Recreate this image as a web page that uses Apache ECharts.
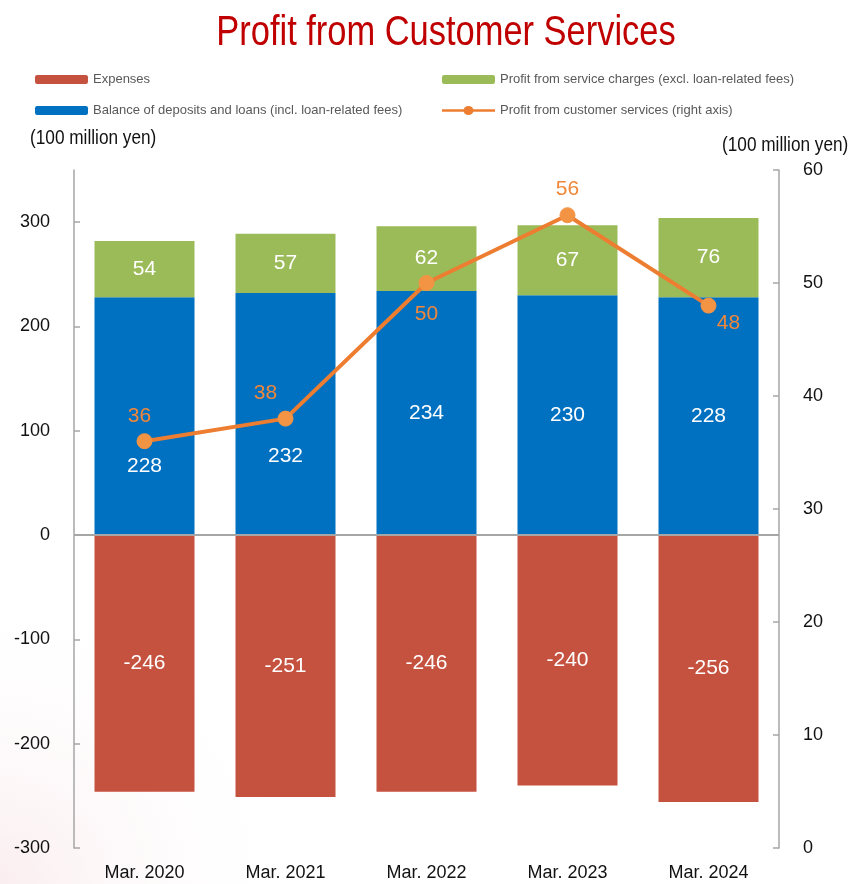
<!DOCTYPE html>
<html>
<head>
<meta charset="utf-8">
<script src="https://cdn.jsdelivr.net/npm/echarts@6/dist/echarts.min.js"></script>
<style>
  html, body { margin: 0; padding: 0; background: #ffffff; }
  #chart { width: 853px; height: 884px; }
</style>
</head>
<body>
<div id="chart"></div>
<script>
// Fiscal year-end periods
const categories = ['Mar. 2020', 'Mar. 2021', 'Mar. 2022', 'Mar. 2023', 'Mar. 2024'];

// Values in 100 million yen
const expenses = [-246, -251, -246, -240, -256];
const depositsAndLoans = [228, 232, 234, 230, 228];
const serviceCharges = [54, 57, 62, 67, 76];
const customerServicesProfit = [36, 38, 50, 56, 48];

// Tick ranges
const leftAxisRange = { min: -300, max: 350, step: 100 };
const rightAxisRange = { min: 0, max: 60, step: 10 };

// Label placement tweaks (pixel offsets)
const depositLabelOffsets = [[0, 50], [0, 42], [0, 0], [0, 0], [0, 0]];
const profitLabelOffsets = [[-5, -25], [-20, -25], [0, 31], [0, -26], [20, 18]];

const FONT = '"Liberation Sans Narrow", "Arial Narrow", "Liberation Sans", Arial, sans-serif';
const NARROW = 0.82; // horizontal squeeze for the free-standing headings
const C_RED = '#C5523F';
const C_BLUE = '#0070C0';
const C_GREEN = '#9BBB59';
const C_ORANGE = '#ED7D31';
const C_ORANGE_LIGHT = '#F39444';
const AXIS_GRAY = '#A6A6A6';

// Legend glyph for the line series: a thick stroke with a dot in the middle
const LINE_DOT_ICON = 'path://M0,3.5 L53,3.5 L53,6.5 L0,6.5 Z M21.5,5 A5,5 0 1 1 31.5,5 A5,5 0 1 1 21.5,5 Z';

const names = {
  exp: 'Expenses',
  dep: 'Balance of deposits and loans (incl. loan-related fees)',
  svc: 'Profit from service charges (excl. loan-related fees)',
  prof: 'Profit from customer services (right axis)'
};

const chart = echarts.init(document.getElementById('chart'), null, { renderer: 'canvas' });

const barLabel = {
  show: true,
  position: 'inside',
  color: '#ffffff',
  fontFamily: FONT,
  fontSize: 21
};

const legendText = { fontFamily: FONT, fontSize: 13, color: '#595959' };

function heading(text, x, y, size, color, align) {
  return {
    type: 'text',
    x: x,
    y: y,
    scaleX: NARROW,
    silent: true,
    style: {
      text: text,
      font: size + 'px ' + FONT,
      fill: color,
      align: align,
      verticalAlign: 'middle'
    }
  };
}

chart.setOption({
  animation: false,
  backgroundColor: '#ffffff',
  textStyle: { fontFamily: FONT },
  graphic: [
    {
      type: 'rect',
      z: -10,
      silent: true,
      shape: { x: 0, y: 584, width: 300, height: 300 },
      style: {
        fill: new echarts.graphic.RadialGradient(0, 1, 1, [
          { offset: 0, color: 'rgba(236, 185, 195, 0.25)' },
          { offset: 1, color: 'rgba(255, 255, 255, 0)' }
        ])
      }
    },
    heading('Profit from Customer Services', 446, 33, 42, '#C00000', 'center'),
    heading('(100 million yen)', 30, 138, 21, '#111111', 'left'),
    heading('(100 million yen)', 722, 145, 21, '#111111', 'left')
  ],
  legend: [
    {
      orient: 'vertical',
      left: 35,
      top: 73,
      padding: 0,
      itemWidth: 53,
      itemHeight: 9,
      itemGap: 18,
      textStyle: legendText,
      data: [names.exp, names.dep]
    },
    {
      orient: 'vertical',
      left: 442,
      top: 73,
      padding: 0,
      itemWidth: 53,
      itemHeight: 9,
      itemGap: 18,
      symbolKeepAspect: false,
      textStyle: legendText,
      data: [
        names.svc,
        { name: names.prof, icon: LINE_DOT_ICON, itemStyle: { color: C_ORANGE } }
      ]
    }
  ],
  grid: { left: 74, right: 74, top: 170, bottom: 36, containLabel: false },
  xAxis: {
    type: 'category',
    data: categories,
    axisLine: { show: false },
    axisTick: { show: false },
    axisLabel: { color: '#111111', fontFamily: FONT, fontSize: 18, margin: 16 }
  },
  yAxis: [
    {
      type: 'value',
      min: leftAxisRange.min,
      max: leftAxisRange.max,
      interval: leftAxisRange.step,
      position: 'left',
      splitLine: { show: false },
      axisLine: { show: true, lineStyle: { color: AXIS_GRAY, width: 1.5 } },
      axisTick: { show: true, inside: true, length: 6, lineStyle: { color: AXIS_GRAY, width: 1.5 } },
      axisLabel: { color: '#111111', fontFamily: FONT, fontSize: 18, margin: 24, showMaxLabel: false }
    },
    {
      type: 'value',
      min: rightAxisRange.min,
      max: rightAxisRange.max,
      interval: rightAxisRange.step,
      position: 'right',
      splitLine: { show: false },
      axisLine: { show: true, lineStyle: { color: AXIS_GRAY, width: 1.5 } },
      axisTick: { show: true, inside: true, length: 6, lineStyle: { color: AXIS_GRAY, width: 1.5 } },
      axisLabel: { color: '#111111', fontFamily: FONT, fontSize: 18, margin: 24 }
    }
  ],
  series: [
    {
      name: names.exp,
      type: 'bar',
      stack: 'total',
      yAxisIndex: 0,
      barWidth: 100,
      itemStyle: { color: C_RED },
      label: barLabel,
      data: expenses,
      markLine: {
        silent: true,
        symbol: 'none',
        label: { show: false },
        lineStyle: { color: AXIS_GRAY, width: 2, type: 'solid' },
        data: [{ yAxis: 0 }],
        z: 5
      }
    },
    {
      name: names.dep,
      type: 'bar',
      stack: 'total',
      yAxisIndex: 0,
      barWidth: 100,
      itemStyle: { color: C_BLUE },
      label: barLabel,
      data: depositsAndLoans.map((v, i) => ({
        value: v,
        label: { offset: depositLabelOffsets[i] }
      }))
    },
    {
      name: names.svc,
      type: 'bar',
      stack: 'total',
      yAxisIndex: 0,
      barWidth: 100,
      itemStyle: { color: C_GREEN },
      label: barLabel,
      data: serviceCharges
    },
    {
      name: names.prof,
      type: 'line',
      yAxisIndex: 1,
      z: 10,
      symbol: 'circle',
      symbolSize: 15,
      lineStyle: { color: C_ORANGE, width: 4 },
      itemStyle: { color: C_ORANGE_LIGHT, borderColor: C_ORANGE_LIGHT },
      label: {
        show: true,
        position: 'inside',
        color: '#F0873A',
        fontFamily: FONT,
        fontSize: 21
      },
      data: customerServicesProfit.map((v, i) => ({
        value: v,
        label: { offset: profitLabelOffsets[i] }
      }))
    }
  ]
});
</script>
</body>
</html>
